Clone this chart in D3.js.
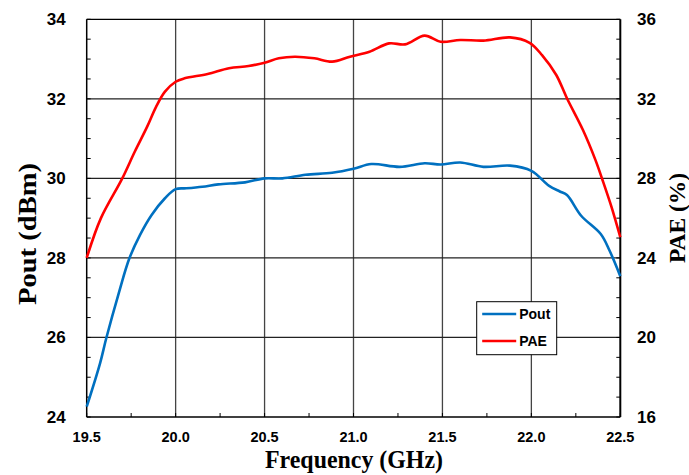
<!DOCTYPE html>
<html>
<head>
<meta charset="utf-8">
<script src="https://cdn.jsdelivr.net/npm/d3@7"></script>
<style>
  body { margin: 0; background: #fff; }
  svg { display: block; }
</style>
</head>
<body>
<div id="chart"></div>
<script>
const width = 689;
const height = 475;
const margin = { top: 19.3, right: 68, bottom: 58, left: 86.7 };

// Pout (dBm) readings
const poutFreq = [19.50, 19.575, 19.61, 19.68, 19.74, 19.80, 19.865, 19.94, 20.00, 20.06, 20.15, 20.24, 20.39, 20.50, 20.60, 20.73, 20.88, 21.00, 21.10, 21.26, 21.40, 21.49, 21.60, 21.73, 21.88, 22.00, 22.10, 22.16, 22.20, 22.28, 22.39, 22.44, 22.50];
const poutVal = [24.26, 25.35, 25.98, 27.11, 27.99, 28.58, 29.08, 29.50, 29.73, 29.75, 29.79, 29.85, 29.90, 30.00, 30.00, 30.09, 30.14, 30.24, 30.36, 30.29, 30.38, 30.35, 30.40, 30.29, 30.32, 30.19, 29.81, 29.67, 29.58, 29.06, 28.60, 28.18, 27.54];

// PAE (%) readings
const paeFreq = [19.50, 19.58, 19.70, 19.77, 19.84, 19.89, 19.94, 20.00, 20.05, 20.18, 20.30, 20.41, 20.50, 20.58, 20.67, 20.78, 20.88, 20.98, 21.09, 21.20, 21.29, 21.40, 21.49, 21.60, 21.73, 21.88, 21.99, 22.06, 22.14, 22.20, 22.29, 22.36, 22.40, 22.45, 22.50];
const paeVal = [24.0, 26.0, 28.0, 29.34, 30.6, 31.6, 32.36, 32.86, 33.03, 33.25, 33.54, 33.65, 33.82, 34.04, 34.12, 34.04, 33.87, 34.12, 34.37, 34.79, 34.74, 35.18, 34.87, 34.96, 34.93, 35.09, 34.82, 34.20, 33.20, 32.03, 30.43, 28.93, 27.92, 26.58, 25.04];

const xTicks = [19.5, 20.0, 20.5, 21.0, 21.5, 22.0, 22.5];
const yLeftTicks = [24, 26, 28, 30, 32, 34];
const yRightTicks = [16, 20, 24, 28, 32, 36];

const svg = d3.select("#chart")
  .append("svg")
  .attr("width", width)
  .attr("height", height);

const x = d3.scaleLinear().domain([19.5, 22.5]).range([margin.left, width - margin.right - 0.7]);
const yL = d3.scaleLinear().domain([24, 34]).range([height - margin.bottom, margin.top]);
const yR = d3.scaleLinear().domain([16, 36]).range([height - margin.bottom, margin.top]);

const x0 = x.range()[0], x1 = x.range()[1];
const y0 = yL.range()[0], y1 = yL.range()[1];

// grid
svg.append("g")
  .selectAll("line")
  .data(xTicks.slice(1, -1))
  .join("line")
  .attr("x1", d => x(d)).attr("x2", d => x(d))
  .attr("y1", y1).attr("y2", y0)
  .attr("stroke", "#444").attr("stroke-width", 1.3);

svg.append("g")
  .selectAll("line")
  .data(yLeftTicks.slice(1, -1))
  .join("line")
  .attr("x1", x0).attr("x2", x1)
  .attr("y1", d => yL(d)).attr("y2", d => yL(d))
  .attr("stroke", "#222").attr("stroke-width", 1.2);

// minor ticks (inward)
const xMinor = d3.range(19.5, 22.5001, 0.25);
svg.append("g")
  .selectAll("line")
  .data(xMinor)
  .join("line")
  .attr("x1", d => x(d)).attr("x2", d => x(d))
  .attr("y1", y0).attr("y2", y0 - 4)
  .attr("stroke", "#000").attr("stroke-width", 1);

const yMinor = d3.range(24, 34.001, 0.5);
svg.append("g")
  .selectAll("line")
  .data(yMinor)
  .join("line")
  .attr("x1", x0).attr("x2", x0 + 4)
  .attr("y1", d => yL(d)).attr("y2", d => yL(d))
  .attr("stroke", "#000").attr("stroke-width", 1);

const yRMinor = d3.range(16, 36.001, 1);
svg.append("g")
  .selectAll("line")
  .data(yRMinor)
  .join("line")
  .attr("x1", x1).attr("x2", x1 - 4)
  .attr("y1", d => yR(d)).attr("y2", d => yR(d))
  .attr("stroke", "#000").attr("stroke-width", 1);

// frame
svg.append("line").attr("x1", x0).attr("x2", x1).attr("y1", y1).attr("y2", y1)
  .attr("stroke", "#000").attr("stroke-width", 1.2);
svg.append("line").attr("x1", x0).attr("x2", x1).attr("y1", y0).attr("y2", y0)
  .attr("stroke", "#000").attr("stroke-width", 1.6);
svg.append("line").attr("x1", x0).attr("x2", x0).attr("y1", y1).attr("y2", y0)
  .attr("stroke", "#000").attr("stroke-width", 1.5);
svg.append("line").attr("x1", x1).attr("x2", x1).attr("y1", y1).attr("y2", y0)
  .attr("stroke", "#000").attr("stroke-width", 2);

// tick labels
const tickFont = "'Liberation Sans', Arial, sans-serif";
svg.append("g")
  .selectAll("text")
  .data(xTicks)
  .join("text")
  .attr("x", d => x(d))
  .attr("y", 442)
  .attr("text-anchor", "middle")
  .attr("font-family", tickFont).attr("font-weight", "bold").attr("font-size", 14.5)
  .text(d => d.toFixed(1));

svg.append("g")
  .selectAll("text")
  .data(yLeftTicks)
  .join("text")
  .attr("x", 65.7)
  .attr("y", d => yL(d) + 6)
  .attr("text-anchor", "end")
  .attr("font-family", tickFont).attr("font-weight", "bold").attr("font-size", 17)
  .text(d => d);

svg.append("g")
  .selectAll("text")
  .data(yRightTicks)
  .join("text")
  .attr("x", 637)
  .attr("y", d => yR(d) + 6)
  .attr("text-anchor", "start")
  .attr("font-family", tickFont).attr("font-weight", "bold").attr("font-size", 17)
  .text(d => d);

// axis titles
const titleFont = "'Liberation Serif', 'Times New Roman', serif";
svg.append("text")
  .attr("transform", "translate(36,234) rotate(-90)")
  .attr("text-anchor", "middle")
  .attr("font-family", titleFont).attr("font-weight", "bold").attr("font-size", 25)
  .attr("textLength", 142).attr("lengthAdjust", "spacingAndGlyphs")
  .text("Pout (dBm)");

svg.append("text")
  .attr("transform", "translate(685,218) rotate(-90)")
  .attr("text-anchor", "middle")
  .attr("font-family", titleFont).attr("font-weight", "bold").attr("font-size", 23)
  .attr("textLength", 90).attr("lengthAdjust", "spacingAndGlyphs")
  .text("PAE (%)");

svg.append("text")
  .attr("x", 354)
  .attr("y", 468)
  .attr("text-anchor", "middle")
  .attr("font-family", titleFont).attr("font-weight", "bold").attr("font-size", 25)
  .attr("textLength", 178).attr("lengthAdjust", "spacingAndGlyphs")
  .text("Frequency (GHz)");

// curves
const poutLine = d3.line()
  .x((d, i) => x(poutFreq[i]))
  .y(d => yL(d))
  .curve(d3.curveCatmullRom.alpha(0.5));

const paeLine = d3.line()
  .x((d, i) => x(paeFreq[i]))
  .y(d => yR(d))
  .curve(d3.curveCatmullRom.alpha(0.5));

svg.append("path")
  .attr("d", paeLine(paeVal))
  .attr("fill", "none").attr("stroke", "#ff0000").attr("stroke-width", 2.6);

svg.append("path")
  .attr("d", poutLine(poutVal))
  .attr("fill", "none").attr("stroke", "#0070c0").attr("stroke-width", 2.6);

// legend
const leg = svg.append("g").attr("transform", "translate(476.7,301.7)");
leg.append("rect")
  .attr("width", 80).attr("height", 53)
  .attr("fill", "#fff").attr("stroke", "#000").attr("stroke-width", 1);

const legendItems = [
  { name: "Pout", color: "#0070c0" },
  { name: "PAE", color: "#ff0000" }
];
legendItems.forEach((d, i) => {
  const ly = 12.3 + i * 27;
  leg.append("line")
    .attr("x1", 5.5).attr("x2", 39.5).attr("y1", ly).attr("y2", ly)
    .attr("stroke", d.color).attr("stroke-width", 2.6);
  leg.append("text")
    .attr("x", 42.5).attr("y", ly + 5)
    .attr("font-family", tickFont).attr("font-weight", "bold").attr("font-size", 14)
    .text(d.name);
});
</script>
</body>
</html>
